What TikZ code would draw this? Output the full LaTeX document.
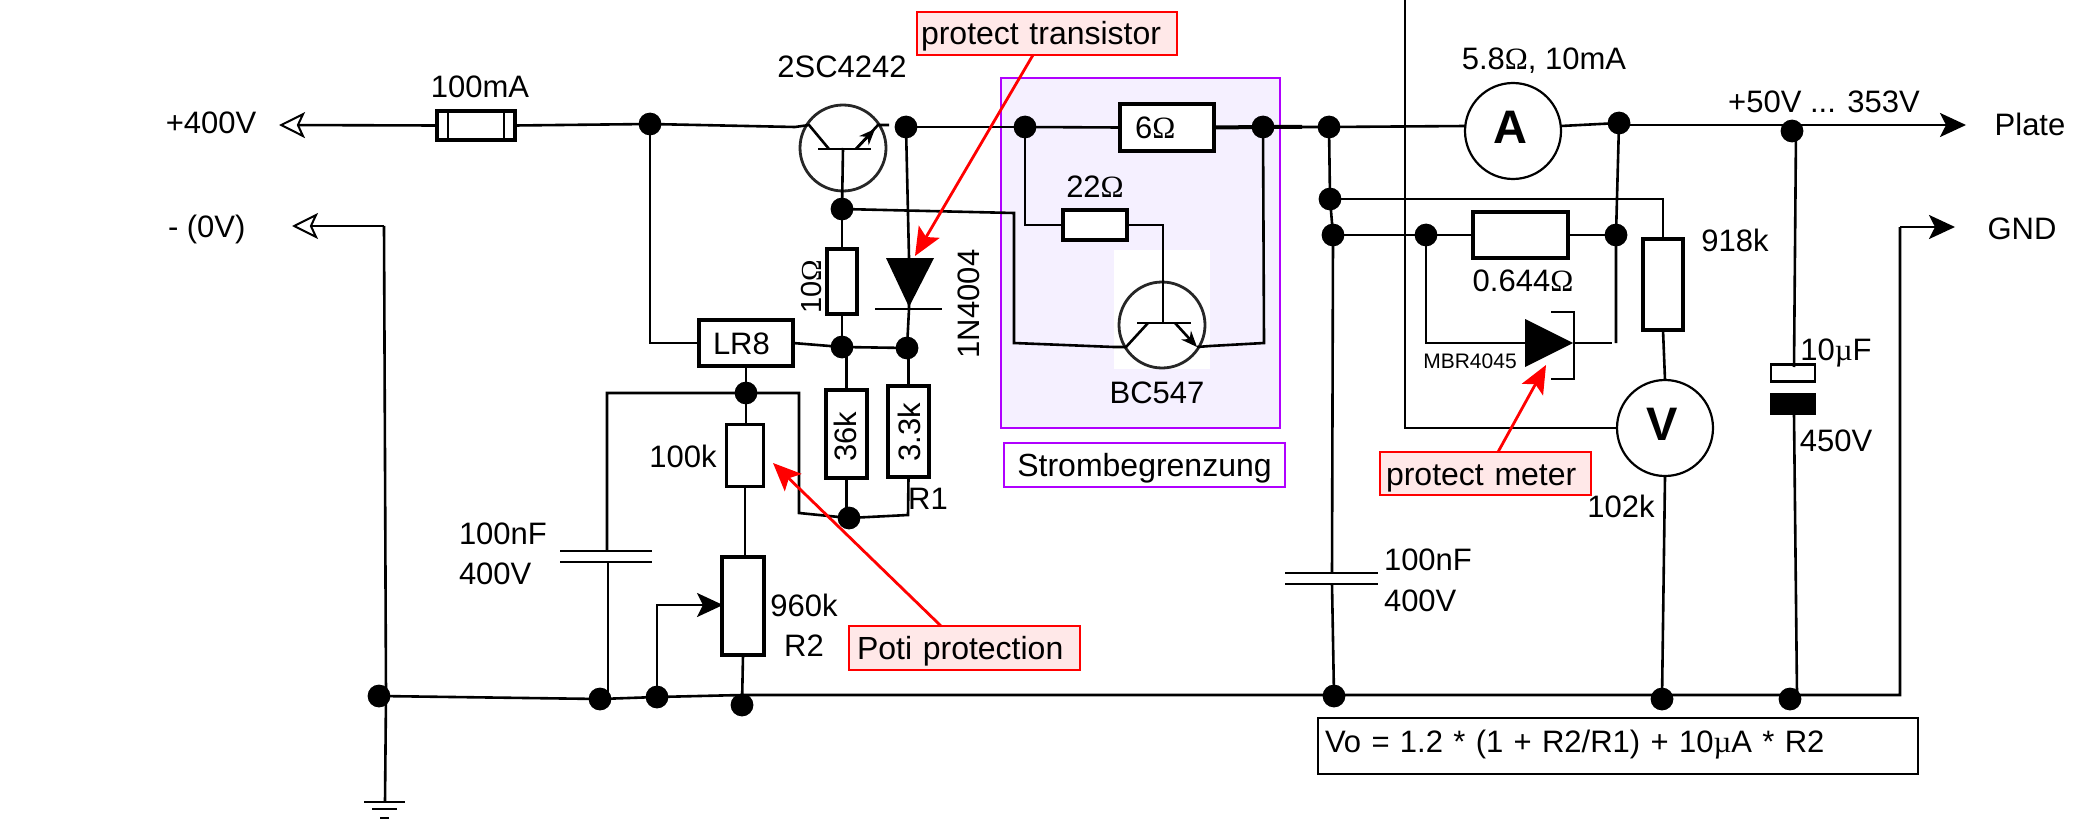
\documentclass[tikz,border=0pt]{standalone}
\usepackage{fontspec}
\setmainfont{Liberation Sans}
\newfontfamily\symf{Liberation Serif}
\usetikzlibrary{arrows.meta}
\definecolor{purp}{RGB}{176,0,255}
\definecolor{lav}{RGB}{245,240,255}
\definecolor{pinkf}{RGB}{255,232,232}
\newcommand{\Om}{{\symf Ω}}
\newcommand{\Mu}{{\symf µ}}
\tikzset{
  sz/.style 2 args={minimum width=#1*0.5pt,minimum height=#2*0.5pt},
  base/.style={inner sep=0pt,outer sep=0pt},
  lbl/.style={base,font=\fontsize{15.5}{18}\selectfont,text height=11.1pt,text depth=0pt},
  rlbl/.style={lbl,rotate=90},
  res/.style={base,draw=black,fill=white,rectangle,line width=#1,font=\fontsize{15.5}{18}\selectfont,text height=11.1pt,text depth=0pt},
  res/.default=1.8pt,
  jn/.style={base,circle,fill=black,minimum size=11.4pt},
  wire/.style={line width=1.3pt,draw=black,line join=miter},
  plate/.style={line width=1.4pt,draw=black},
  tr/.style={base,circle,draw=black!85,line width=1.4pt,minimum size=43pt},
  meter/.style={base,circle,draw=black,line width=1.1pt,fill=white,minimum size=48pt,font=\fontsize{23.5}{26}\selectfont\bfseries,text height=16.8pt,text depth=4pt},
  redbox/.style={base,draw=red,fill=pinkf,line width=1.25pt,font=\fontsize{16}{19}\selectfont,text height=11.5pt,text depth=0pt,align=left},
  purpbox/.style={base,draw=purp,line width=1.25pt},
  redarr/.style={draw=red,line width=1.4pt,-{Stealth[length=14pt,width=12pt,inset=3pt,red]}},
  openarr/.style={wire,-{Stealth[open,length=13pt,width=13pt,inset=3pt,fill=white,line width=1pt]}},
  solidarr/.style={wire,-{Stealth[length=13pt,width=12pt,inset=3pt]}},
  emarr/.style={wire,-{Stealth[length=8pt,width=6.5pt]}}
}
\begin{document}
\begin{tikzpicture}[x=0.5pt,y=-0.5pt]
\useasboundingbox (0,0) rectangle (2087,829);
% current-limiter panel
\node[purpbox,fill=lav,sz={279}{350}] (panel) at (1140.5,253) {};
\node[base,fill=white,sz={96}{119}] (t2bg) at (1162,309.5) {};
% text labels
\node[lbl] (lp) at (211,122) {+400V};
\node[lbl,anchor=west] (lm) at (168,226) {- (0V)};
\node[lbl] (lfuse) at (480,86) {100mA};
\node[lbl] (ltone) at (842,66) {2SC4242};
\node[lbl] (ltwo) at (1157,392) {BC547};
\node[lbl] (l22) at (1095,186) {22\Om};
\node[lbl] (lam) at (1544,58) {5.8\Om, 10mA};
\node[lbl] (lv) at (1824,101) {+50V ... 353V};
\node[lbl] (lplate) at (2030,124) {Plate};
\node[lbl] (lgnd) at (2022,228) {GND};
\node[lbl] (l918) at (1735,240) {918k};
\node[lbl] (l644) at (1523,280) {0.644\Om};
\node[lbl,font=\fontsize{10.5}{12}\selectfont,text height=7.5pt] (lmbr) at (1470,361) {MBR4045};
\node[lbl] (l10u) at (1836,349) {10\Mu F};
\node[lbl] (l450) at (1836,440) {450V};
\node[lbl] (l102) at (1621,506) {102k};
\node[lbl,anchor=west] (lc2a) at (1384,559) {100nF};
\node[lbl,anchor=west] (lc2b) at (1384,600) {400V};
\node[lbl,anchor=west] (lc1a) at (459,533) {100nF};
\node[lbl,anchor=west] (lc1b) at (459,573) {400V};
\node[lbl] (l100k) at (683,456) {100k};
\node[lbl] (l960) at (804,605) {960k};
\node[lbl] (lr2) at (804,645) {R2};
\node[lbl] (lr1) at (928,498) {R1};
% components
\node[res=2.2pt,sz={78}{29}] (fuse) at (476,125.5) {};
\node[res=2.2pt,sz={94}{46},text width=33pt,inner xsep=7pt,align=left] (lr8) at (746,343) {LR8};
\node[res=2pt,sz={30}{65}] (r10) at (842,281.5) {};
\node[res=2.2pt,sz={94}{47},text width=32pt,inner xsep=7.5pt,align=left] (r6) at (1167,127.5) {6\Om};
\node[res=2pt,sz={64}{30}] (r22) at (1095,225) {};
\node[res=2pt,sz={41}{88}] (r36) at (846.5,434) {};
\node[res=2pt,sz={41}{91}] (r33) at (908.5,431.5) {};
\node[res=1.6pt,sz={37}{62}] (r100) at (745,455.5) {};
\node[res=2.2pt,sz={42}{98}] (pot) at (743,606) {};
\node[res=2.4pt,sz={95}{46}] (r644) at (1520.5,235) {};
\node[res=2pt,sz={40}{91}] (r918) at (1663,284.5) {};
\node[rlbl,font=\fontsize{14.5}{17}\selectfont] (l10) at (810,287) {10\Om};
\node[rlbl] (l1n) at (968,304) {1N4004};
\node[rlbl] (l36) at (845,437) {36k};
\node[rlbl] (l33) at (909,432) {3.3k};
\node[meter] (am) at (1513,131) {A\kern3pt};
\node[meter] (vm) at (1665,428) {V\kern3pt};
\node[tr] (t1) at (843,148) {};
\node[tr] (t2) at (1162,325) {};
% electrolytic capacitor plates
\node[base,draw=black,fill=white,line width=1.2pt,sz={44}{17}] (cpos) at (1793,373) {};
\node[base,fill=black,sz={46}{22}] (cneg) at (1793,404) {};
% junctions
\node[jn] (j1) at (650,124) {};
\node[jn] (jc) at (906,127) {};
\node[jn] (jb) at (842,209) {};
\node[jn] (jl) at (842,347) {};
\node[jn] (jk) at (907,348) {};
\node[jn] (jadj) at (746,393) {};
\node[jn] (jr) at (849,518) {};
\node[jn] (ja) at (1025,127) {};
\node[jn] (je) at (1263,127) {};
\node[jn] (jt) at (1329,127) {};
\node[jn] (jm) at (1330,199) {};
\node[jn] (jn3) at (1333,235) {};
\node[jn] (js) at (1426,235) {};
\node[jn] (jsr) at (1616,235) {};
\node[jn] (jam) at (1619,123) {};
\node[jn] (jout) at (1792,131) {};
\node[jn] (jg) at (379,696) {};
\node[jn] (jc1) at (600,699) {};
\node[jn] (jw) at (657,697) {};
\node[jn] (jp) at (742,705) {};
\node[jn] (jc2) at (1334,696) {};
\node[jn] (jv) at (1662,699) {};
\node[jn] (jce) at (1790,699) {};
% free ends and corners
\coordinate (tipp) at (279,125);
\coordinate (tipm) at (292,226);
\coordinate (gc) at (384,226);
\coordinate (gm) at (386,696);
\coordinate (gb) at (385,802);
\coordinate (t1in) at (795,127);
\coordinate (t1cs) at (809,125);
\coordinate (t1cb) at (829,149);
\coordinate (t1eb) at (856,149);
\coordinate (t1es) at (878,125);
\coordinate (t1out) at (889,125);
\coordinate (t2cb) at (1148,323);
\coordinate (t2cs) at (1126,347);
\coordinate (t2in) at (1114,347);
\coordinate (t2eb) at (1175,323);
\coordinate (t2es) at (1197,347);
\coordinate (t2out) at (1210,346);
\coordinate (t2b) at (1163,323);
\coordinate (d1a) at (909,258);
\coordinate (d1k) at (909,309);
\coordinate (d2a) at (1525,343);
\coordinate (d2k) at (1574,343);
\coordinate (d2e) at (1612,343);
\coordinate (d2v) at (1616,343);
\coordinate (plate) at (1966,125);
\coordinate (gndtip) at (1955,227);
\coordinate (gndc) at (1900,227);
\coordinate (railr) at (1900,695);
\coordinate (rail) at (742,695);
\coordinate (c1t) at (607,551);
\coordinate (c1b) at (608,562);
\coordinate (c2t) at (1332,573);
\coordinate (c2b) at (1332,584);
\coordinate (wipe) at (723,605);
\coordinate (top) at (1405,0);
\coordinate (r3b) at (908,515);
\coordinate (rb) at (799,513);
\coordinate (adjr) at (799,393);
\coordinate (adjl) at (607,393);
\coordinate (b2) at (1014,213);
\coordinate (b3) at (1014,343);
\coordinate (amw) at (1466,126);
\coordinate (ame) at (1561,126);
\coordinate (jamr) at (1619,125);
\coordinate (capa) at (1796,131);
\coordinate (capb) at (1794,367);
\coordinate (capc) at (1794,415);
\coordinate (capd) at (1797,695);
% fuse inner bars
\draw[wire] (448,110) -- (448,141) (504,110) -- (504,141);
% wires
\draw[openarr] (fuse.west) -- (tipp);
\draw[wire] (fuse.east) -- (j1.center) -- (t1in) -- (t1cs) -- (t1cb);
\draw[wire] (j1.center) |- (lr8.west);
\draw[wire] (t1eb) -- (t1es) -- (t1out);
\draw[emarr] (t1eb) -- (875,129);
\draw[wire] (jc.center) -- (ja.center);
\draw[wire] (ja.center) -- (r6.west);
\draw[wire,line width=2pt] (r6.east) -- (je.center) -- (1302,127);
\draw[wire] (je.center) -- (jt.center) -- (amw);
\draw[wire] (ame) -- (jam.center);
\draw[solidarr] (jamr) -- (plate);
\draw[wire] (jt.center) -- (jm.center) -- (jn3.center) -- (c2t);
\draw[wire] (c2b) -- (jc2.center);
\draw[plate] (1285,573) -- (1378,573) (1285,584) -- (1378,584);
\draw[wire] (jn3.center) -- (js.center) -- (r644.west);
\draw[wire] (r644.east) -- (jsr.center);
\draw[wire] (jam.center) -- (jsr.center) -- (d2v);
\draw[wire] (jm.center) -| (r918.north);
\draw[wire] (r918.south) -- (vm.north);
\draw[wire] (vm.south) -- (jv.center);
\draw[wire] (top) |- (vm.west);
\draw[wire] (js.center) |- (d2a);
\fill (d2a |- 0,319) -- (1573,343) -- (d2a |- 0,367) -- cycle;
\draw[wire] (1551,312) -- (d2k |- 0,312) -- (d2k |- 0,379) -- (1551,379);
\draw[wire] (d2k) -- (d2e);
\draw[wire] (capa) -- (capb);
\draw[wire] (capc) -- (capd);
\draw[wire] (jg.center) -- (jc1.center) -- (jw.center) -- (rail) -- (railr) -- (gndc);
\draw[solidarr] (gndc) -- (gndtip);
\draw[openarr] (gc) -- (tipm);
\draw[wire] (gc) -- (gm) -- (gb);
\draw[plate] (364,802) -- (405,802);
\draw[plate] (372,809) -- (397,809);
\draw[plate] (380,818) -- (389,818);
\draw[wire] (t1.center) -- (jb.center);
\draw[plate] (818,149) -- (871,149);
\draw[wire] (jb.center) -- (r10.north);
\draw[wire] (r10.south) -- (jl.center);
\draw[wire] (lr8.east) -- (jl.center) -- (jk.center);
\draw[wire] (jc.center) -- (d1a);
\fill (886,258) -- (934,258) -- (909,307) -- cycle;
\draw[plate] (875,309) -- (942,309);
\draw[wire] (d1a) -- (d1k) -- (jk.center);
\draw[wire] (jb.center) -- (b2) -- (b3) -- (t2in) -- (t2cs) -- (t2cb);
\draw[plate] (1137,323) -- (1191,323);
\draw[wire] (ja.center) |- (r22.west);
\draw[wire] (r22.east) -| (t2b);
\draw[emarr] (t2eb) -- (t2es);
\draw[wire] (t2es) -- (t2out) -- (1264,343) -- (je.center);
\draw[wire] (jl.center -| r36.north) -- (r36.north);
\draw[wire] (jk.center -| r33.north) -- (r33.north);
\draw[wire] (r36.south) -- (r36.south |- jr.center);
\draw[wire] (r33.south) -- (r3b) -- (jr.center) -- (rb) -- (adjr) -- (jadj.center) -- (adjl) -- (c1t);
\draw[wire] (c1b) -- (jc1.center -| c1b) -- (jc1.center);
\draw[plate] (560,551) -- (652,551) (560,562) -- (652,562);
\draw[wire] (lr8.south) -- (jadj.center) -- (jadj.center |- r100.north);
\draw[wire] (r100.south) -- (r100.south |- pot.north);
\draw[wire] (pot.south) -- (jp.center);
\draw[solidarr] (jw.center) |- (wipe);
% notes
\node[redbox,sz={260}{43},inner xsep=2pt,text width=126pt] (nt) at (1047,33.5) {protect transistor};
\node[redbox,sz={231}{44},inner xsep=4pt,text width=107.5pt] (np) at (964.5,648) {Poti protection};
\node[redbox,sz={211}{43},inner xsep=3pt,text width=99.5pt] (nm) at (1485.5,473.5) {protect meter};
\node[purpbox,fill=white,sz={281}{44},font=\fontsize{16}{19}\selectfont,text height=11.5pt,text depth=0pt] (ns) at (1144.5,465) {Strombegrenzung};
\node[base,draw=black,line width=1.4pt,sz={600}{56},font=\fontsize{15.5}{18}\selectfont,text height=11.1pt,text depth=5pt,inner xsep=3.5pt,text width=293pt,align=left] (nf) at (1618,746) {Vo = 1.2 * (1 + R2/R1) + 10\Mu A * R2};
\coordinate (nts) at (1033,55);
\coordinate (ntt) at (915,256);
\coordinate (nps) at (941,626);
\coordinate (npt) at (773,463);
\coordinate (nms) at (1498,452);
\coordinate (nmt) at (1546,365);
\draw[redarr] (nts) -- (ntt);
\draw[redarr] (nps) -- (npt);
\draw[redarr] (nms) -- (nmt);
\end{tikzpicture}
\end{document}
